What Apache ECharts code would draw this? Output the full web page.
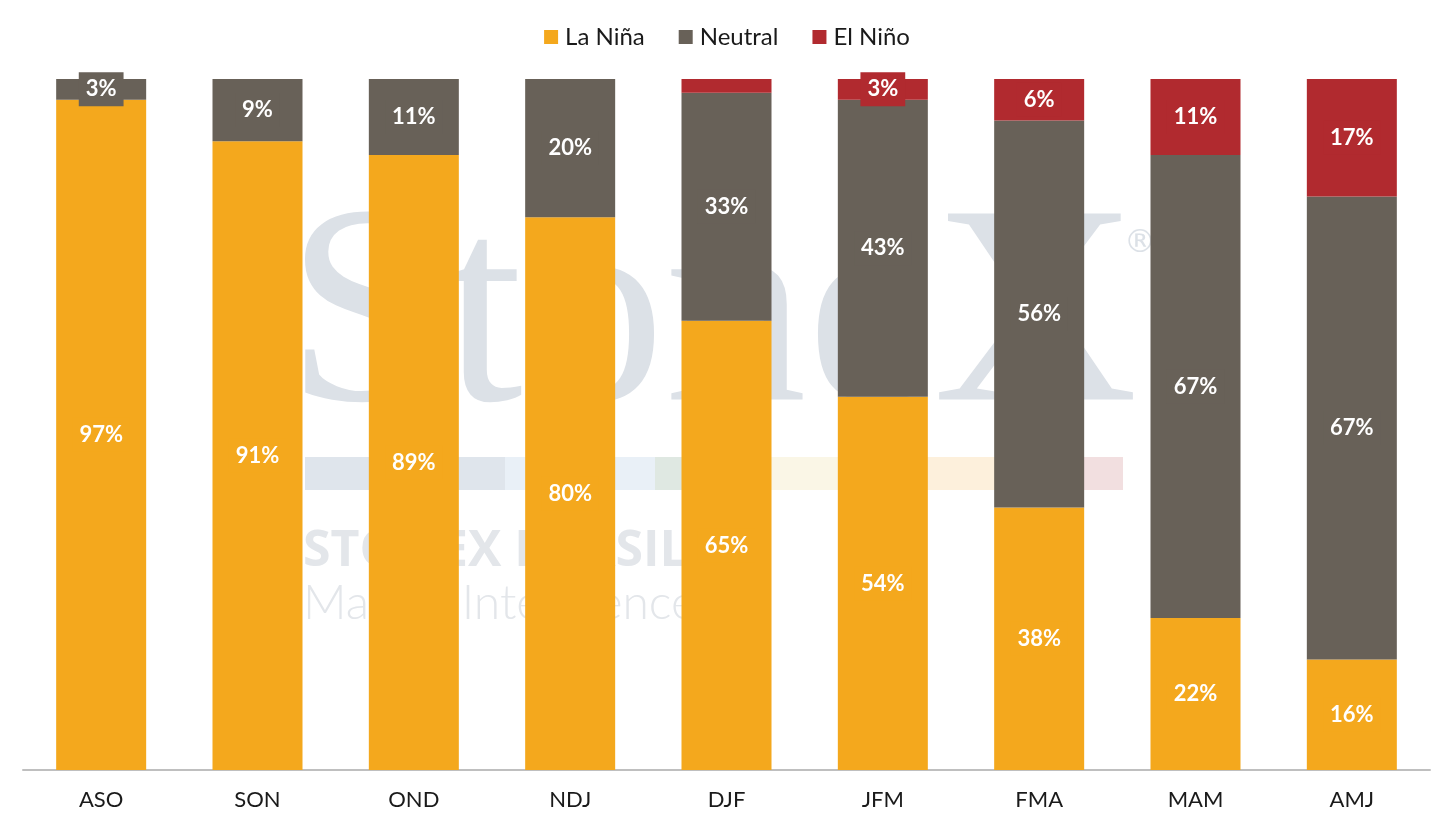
<!DOCTYPE html>
<html>
<head>
<meta charset="utf-8">
<script src="https://cdn.jsdelivr.net/npm/echarts@6/dist/echarts.min.js"></script>
<style>
  html, body { margin: 0; padding: 0; background: #fff; }
  #main { width: 1454px; height: 827px; }
</style>
</head>
<body>
<div id="main"></div>
<script>
var categories = ['ASO', 'SON', 'OND', 'NDJ', 'DJF', 'JFM', 'FMA', 'MAM', 'AMJ'];
var laNina  = [97, 91, 89, 80, 65, 54, 38, 22, 16];
var neutral = [3, 9, 11, 20, 33, 43, 56, 67, 67];
var elNino  = [0, 0, 0, 0, 2, 3, 6, 11, 17];

var FONT = 'Lato';
var colors = { laNina: '#F4A81D', neutral: '#686158', elNino: '#B12A2F' };

function withLabels(values) {
  return values.map(function (v) {
    return v >= 3 ? v : { value: v, label: { show: false } };
  });
}

function barSeries(name, values, color) {
  return {
    name: name,
    type: 'bar',
    stack: 'total',
    barWidth: 90,
    itemStyle: { color: color },
    label: {
      show: true,
      position: 'inside',
      formatter: '{c}%',
      color: '#fff',
      fontFamily: FONT,
      fontWeight: 'bold',
      fontSize: 22,
      backgroundColor: color,
      padding: [7, 7, 5, 7]
    },
    data: withLabels(values)
  };
}

var myChart = echarts.init(document.getElementById('main'));

var option = {
  backgroundColor: '#fff',
  animation: false,
  legend: {
    top: 20,
    left: 'center',
    itemWidth: 14,
    itemHeight: 14,
    itemGap: 34,
    icon: 'rect',
    textStyle: { fontFamily: FONT, fontSize: 24, color: '#1a1a1a', padding: [0, 0, 0, 2] },
    data: ['La Niña', 'Neutral', 'El Niño']
  },
  grid: { left: 23, right: 24, top: 79, bottom: 57, containLabel: false },
  // faint logo watermark behind the bars
  graphic: [
    { type: 'text', z: -10, left: 286, top: 183, style: { text: 'StoneX', font: '284px "Liberation Serif"', fill: '#dce1e7' } },
    { type: 'text', z: -10, left: 1124, top: 228, style: { text: '®', font: '32px "DejaVu Sans"', fill: '#dce1e7' } },
    { type: 'rect', z: -10, shape: { x: 305, y: 457, width: 200, height: 33 }, style: { fill: '#dfe5ec' } },
    { type: 'rect', z: -10, shape: { x: 505, y: 457, width: 150, height: 33 }, style: { fill: '#e9f0f7' } },
    { type: 'rect', z: -10, shape: { x: 655, y: 457, width: 115, height: 33 }, style: { fill: '#dfe8e2' } },
    { type: 'rect', z: -10, shape: { x: 770, y: 457, width: 130, height: 33 }, style: { fill: '#faf6e6' } },
    { type: 'rect', z: -10, shape: { x: 900, y: 457, width: 100, height: 33 }, style: { fill: '#fdf0dc' } },
    { type: 'rect', z: -10, shape: { x: 1000, y: 457, width: 123, height: 33 }, style: { fill: '#f2dfe0' } },
    { type: 'text', z: -10, left: 303, top: 527, style: { text: 'STONEX BRASIL', font: 'bold 50px "Open Sans"', fill: '#e3e6ea' } },
    { type: 'text', z: -10, left: 303, top: 580, style: { text: 'Market Intelligence', font: '300 48px "Lato"', fill: '#e3e6ea' } }
  ],
  xAxis: {
    type: 'category',
    data: categories,
    axisLine: { lineStyle: { color: '#bfbfbf', width: 2 } },
    axisTick: { show: false },
    axisLabel: { margin: 19, fontFamily: FONT, fontSize: 22, color: '#1a1a1a' }
  },
  yAxis: {
    type: 'value',
    min: 0,
    max: 100,
    show: false,
    splitLine: { show: false }
  },
  series: [
    barSeries('La Niña', laNina, colors.laNina),
    barSeries('Neutral', neutral, colors.neutral),
    barSeries('El Niño', elNino, colors.elNino)
  ]
};

myChart.setOption(option);
</script>
</body>
</html>
